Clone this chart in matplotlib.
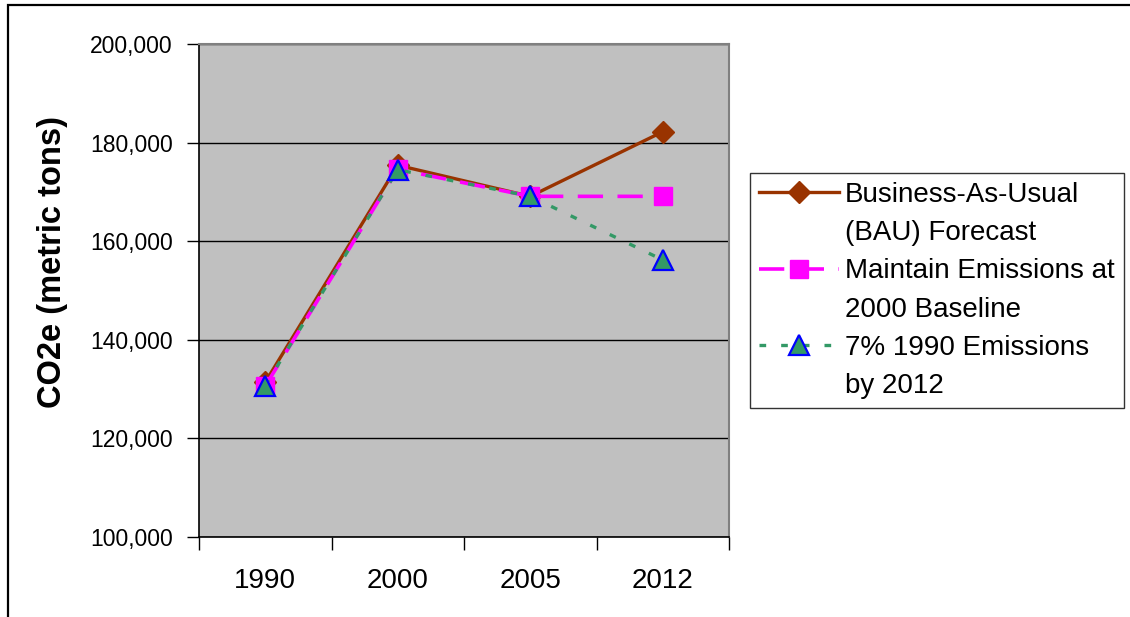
import matplotlib
matplotlib.use("Agg")
import matplotlib.pyplot as plt
from matplotlib.lines import Line2D

plt.rcParams['font.family'] = ['Liberation Sans', 'DejaVu Sans']

# Categories and series (metric tons CO2e)
years = ["1990", "2000", "2005", "2012"]
bau_forecast = [131400, 175400, 169100, 182200]
maintain_2000 = [130600, 174600, 169100, 169100]
target_1990 = [130700, 174500, 169100, 156200]

series_labels = [
    ["Business-As-Usual", "(BAU) Forecast"],
    ["Maintain Emissions at", "2000 Baseline"],
    ["7% 1990 Emissions", "by 2012"],
]

y_ticks = [100000, 120000, 140000, 160000, 180000, 200000]
y_label = "CO2e (metric tons)"

W, H = 1130, 617
fig = plt.figure(figsize=(W / 100, H / 100), dpi=100)
ax = fig.add_axes([199 / W, 1 - 537 / H, 530 / W, 493 / H])
ax.set_facecolor("#C0C0C0")

x = list(range(len(years)))

l1, = ax.plot(x, bau_forecast, color="#993300", lw=2.4, marker="D",
              ms=11.5, mfc="#993300", mec="#993300", zorder=3)
l2, = ax.plot(x, maintain_2000, color="#FF00FF", lw=2.6, ls=(0, (7, 4)),
              marker="s", ms=13.5, mfc="#FF00FF", mec="#FF00FF", zorder=4)
l3, = ax.plot(x, target_1990, color="#339966", lw=2.4, ls=(0, (2, 4.5)),
              marker="^", ms=15, mfc="#339966", mec="#0000FF", mew=1.6,
              zorder=5)

ax.set_xlim(-0.5, len(years) - 0.5)
ax.set_ylim(y_ticks[0], y_ticks[-1])

# Horizontal gridlines
ax.set_yticks(y_ticks, [f"{v:,}" for v in y_ticks])
ax.yaxis.grid(True, color="black", lw=1)
ax.set_axisbelow(True)

ax.set_xticks(x, years)
ax.set_xticks([i - 0.5 for i in range(len(years) + 1)], minor=True)
ax.tick_params(axis="x", which="major", length=0, pad=22, labelsize=20)
ax.tick_params(axis="x", which="minor", length=9, width=1, color="black",
               direction="out")
ax.tick_params(axis="y", length=9, width=1, color="black", direction="out",
               pad=10, labelsize=16.5)

for side in ("left", "bottom"):
    ax.spines[side].set_color("black")
    ax.spines[side].set_linewidth(1.2)
for side in ("top", "right"):
    ax.spines[side].set_color("#808080")
    ax.spines[side].set_linewidth(1.5)

fig.text(52 / W, 1 - 262 / H, y_label, rotation=90, ha="center",
         va="center", fontsize=23.5, fontweight="bold")

# Legend: two text lines per series, symbol beside the first line
blank = Line2D([], [], color="none")
handles = [l1, blank, l2, blank, l3, blank]
labels = [t for pair in series_labels for t in pair]
leg = fig.legend(handles, labels, loc="upper left",
                 bbox_to_anchor=(750 / W, 1 - 173 / H), fontsize=20,
                 frameon=True, fancybox=False, edgecolor="black",
                 handlelength=2.9, handletextpad=0.2, borderpad=0.32,
                 labelspacing=0.44, borderaxespad=0)
leg.get_frame().set_linewidth(1)

# Outer chart frame
fig.add_artist(plt.Rectangle((8 / W, -0.05), 1.2, 1 - 5 / H + 0.05,
                             transform=fig.transFigure, fill=False,
                             edgecolor="black", lw=1.6))

fig.savefig("out.png", dpi=100)
